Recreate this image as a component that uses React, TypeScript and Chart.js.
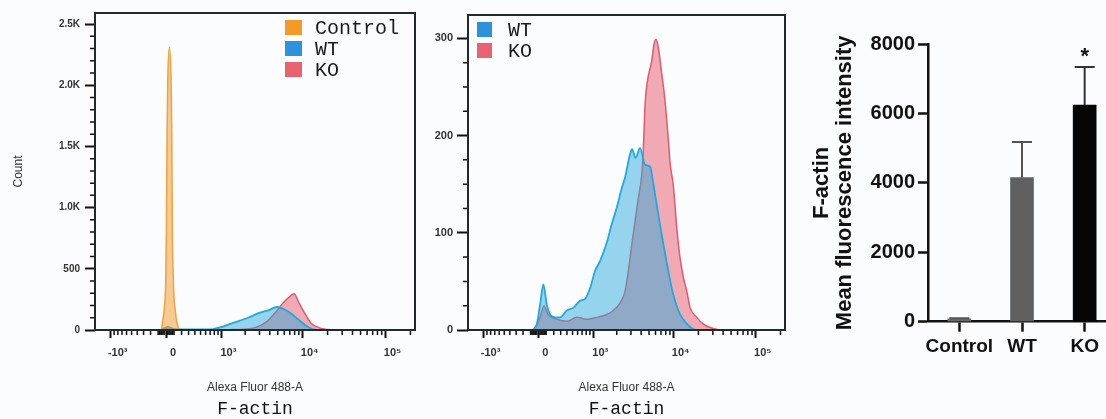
import React, { useEffect, useRef } from "react";
import { Chart, registerables } from "chart.js";

Chart.register(...registerables);

const SANS = '"Liberation Sans", Arial, sans-serif';
const MONO = '"Liberation Mono", "Courier New", monospace';

// ---------- shared flow-cytometry x axis (biexponential display) ----------
const ASINH_COFACTOR = 450;
const X_LIMITS = [-1590, 227000];
const X_MAJOR_TICKS = [-1000, 0, 1000, 10000, 100000];
const X_MAJOR_LABELS = ["-10³", "0", "10³", "10⁴", "10⁵"];
const X_MINOR_TICKS = [
  -900, -800, -700, -600, -500, -400, -300, -200, -100,
  -80, -60, -40, -20, 20, 40, 60, 80,
  100, 200, 300, 400, 500, 600, 700, 800, 900,
  2000, 3000, 4000, 5000, 6000, 7000, 8000, 9000,
  20000, 30000, 40000, 50000, 60000, 70000, 80000, 90000,
  200000,
];

// ---------- panel A (Control / WT / KO overlay) ----------
const A_Y_MAX = 2590;
const A_Y_TICKS = [0, 500, 1000, 1500, 2000, 2500];
const A_Y_LABELS = ["0", "500", "1.0K", "1.5K", "2.0K", "2.5K"];
const A_Y_MINOR = [100, 200, 300, 400, 600, 700, 800, 900, 1100, 1200, 1300, 1400, 1600, 1700, 1800, 1900, 2100, 2200, 2300, 2400];
const A_LEGEND = ["Control", "WT", "KO"];

const ctrlA_X = [-60, -54, -42, -25, -12, -4, 4, 8, 13, 21, 42, 63, 71, 75, 79, 92, 100, 117, 134, 156, 170];
const ctrlA_Y = [0, 19, 74, 155, 262, 401, 810, 1219, 1628, 2037, 2310, 2037, 1628, 1219, 810, 401, 262, 155, 74, 19, 0];

const wtA_X = [-60, -20, 20, 70, 114, 323, 491, 769, 1019, 1332, 2172, 3047, 3812, 4900, 5958, 7240, 9302, 11295, 12983, 14508];
const wtA_Y = [0, 15, 25, 15, 6, 4, 4, 8, 25, 52, 100, 142, 160, 188, 170, 135, 74, 30, 8, 0];

const koA_X = [-60, -20, 20, 70, 114, 491, 1293, 2111, 2801, 3707, 4900, 5794, 6661, 7871, 9045, 10108, 11295, 12627, 14918, 17140, 20250, 24590];
const koA_Y = [0, 10, 15, 10, 4, 2, 3, 8, 25, 70, 160, 220, 260, 297, 220, 160, 105, 55, 25, 10, 4, 0];

// ---------- panel B (WT / KO overlay) ----------
const B_Y_MAX = 324;
const B_Y_TICKS = [0, 100, 200, 300];
const B_Y_LABELS = ["0", "100", "200", "300"];
const B_Y_MINOR = [25, 50, 75, 125, 150, 175, 225, 250, 275];
const B_LEGEND = ["WT", "KO"];

const wtB_X = [-67, -20, 21, 63, 107, 150, 219, 291, 397, 518, 655, 773, 906, 1058, 1230, 1499, 1734, 2003, 2311, 2539, 2927, 3098, 3420, 3884, 4472, 5149, 5650, 6449, 7421, 8540, 9828, 11961, 14558, 17226, 19818];
const wtB_Y = [0, 6, 26, 47, 26, 16, 13, 13, 20, 23, 30, 32, 43, 61, 71, 90, 109, 126, 146, 157, 181, 186, 177, 187, 170, 168, 150, 120, 90, 62, 37, 16, 6, 1, 0];

const koB_X = [-67, -20, 21, 72, 111, 150, 243, 397, 584, 816, 1113, 1499, 1816, 2202, 2539, 2789, 3072, 3373, 3702, 4075, 4263, 4472, 4732, 5400, 5760, 6096, 6503, 7155, 7697, 8235, 8612, 9032, 9909, 10901, 11961, 13122, 14432, 15836, 19112, 22995, 29110, 36743];
const koB_Y = [0, 5, 13, 25, 18, 14, 11, 9, 13, 11, 13, 16, 20, 28, 40, 61, 88, 112, 136, 160, 187, 232, 254, 277, 294, 299, 290, 263, 242, 215, 195, 172, 148, 105, 74, 54, 40, 23, 13, 6, 2, 0];

// ---------- panel C (bar chart) ----------
const BAR_LABELS = ["Control", "WT", "KO"];
const BAR_MEANS = [80, 4150, 6240];
const BAR_SD = [20, 1030, 1100];
const BAR_SIG = ["", "", "*"];
const BAR_Y_MAX = 8000;
const BAR_Y_STEP = 2000;

// ---------- styles ----------
const SERIES_STYLE: Record<string, { line: string; fill: string; box: string; width: number }> = {
  Control: { line: "#f0a23c", fill: "rgba(244,160,58,0.55)", box: "#f59b25", width: 1.5 },
  WT: { line: "#1ea9e1", fill: "rgba(40,170,220,0.48)", box: "#2b92db", width: 1.8 },
  KO: { line: "#e05a6b", fill: "rgba(228,70,88,0.45)", box: "#e8636f", width: 1.5 },
};
const BAR_COLORS = ["#6a6a6a", "#606060", "#050505"];
const BAR_ERR_COLORS = ["#555555", "#555555", "#333333"];

const asinhT = (v: number) => Math.asinh(v / ASINH_COFACTOR);

function histDataset(label: string, xs: number[], ys: number[]) {
  const s = SERIES_STYLE[label];
  return {
    label,
    data: xs.map((v, i) => ({ x: asinhT(v), y: ys[i] })),
    borderColor: s.line,
    backgroundColor: s.fill,
    borderWidth: s.width,
    fill: "origin",
    pointRadius: 0,
    cubicInterpolationMode: "monotone",
  };
}

function minorTicksPlugin(xVals: number[], yVals: number[], len: number) {
  return {
    id: "minorTicks",
    afterDraw(chart: any) {
      const { ctx, chartArea: a, scales } = chart;
      ctx.save();
      ctx.strokeStyle = "#111";
      ctx.lineWidth = 1.5;
      ctx.beginPath();
      for (const v of xVals) {
        const px = scales.x.getPixelForValue(asinhT(v));
        ctx.moveTo(px, a.bottom);
        ctx.lineTo(px, a.bottom + len);
      }
      for (const v of yVals) {
        const py = scales.y.getPixelForValue(v);
        ctx.moveTo(a.left, py);
        ctx.lineTo(a.left - len, py);
      }
      ctx.stroke();
      ctx.restore();
    },
  };
}

const framePlugin = {
  id: "plotFrame",
  afterDraw(chart: any) {
    const { ctx, chartArea: a } = chart;
    ctx.save();
    ctx.strokeStyle = "#1f2b2b";
    ctx.lineWidth = 2;
    ctx.strokeRect(a.left, a.top, a.right - a.left, a.bottom - a.top);
    ctx.restore();
  },
};

function legendPlugin(labels: string[], spec: any) {
  return {
    id: "boxLegend",
    afterDraw(chart: any) {
      const { ctx, chartArea: a } = chart;
      const x0 = spec.anchor === "left" ? a.left + spec.dx : a.right - spec.dx;
      ctx.save();
      labels.forEach((lab, i) => {
        const y = a.top + spec.dy + i * spec.row;
        ctx.fillStyle = SERIES_STYLE[lab].box;
        ctx.fillRect(x0, y, spec.boxW, spec.boxH);
        ctx.fillStyle = "#1a1a1a";
        ctx.font = `${spec.fontSize}px ${MONO}`;
        ctx.textAlign = "left";
        ctx.textBaseline = "middle";
        ctx.fillText(lab, x0 + spec.gap, y + spec.boxH / 2 + 1);
      });
      ctx.restore();
    },
  };
}

function histConfig(p: any) {
  return {
    type: "line",
    data: { datasets: p.datasets },
    options: {
      responsive: false,
      animation: false,
      devicePixelRatio: 1,
      layout: { padding: { top: p.padTop, right: p.padRight, left: 0, bottom: 0 } },
      plugins: { legend: { display: false }, tooltip: { enabled: false }, title: { display: false } },
      scales: {
        x: {
          type: "linear",
          position: "bottom",
          weight: 0,
          min: asinhT(X_LIMITS[0]),
          max: asinhT(X_LIMITS[1]),
          afterBuildTicks: (s: any) => {
            s.ticks = X_MAJOR_TICKS.map((v) => ({ value: asinhT(v) }));
          },
          afterFit: (s: any) => {
            s.height = 67;
          },
          grid: { display: true, drawOnChartArea: false, drawTicks: true, tickLength: 8, tickWidth: 2, tickColor: "#111" },
          border: { display: false },
          ticks: {
            autoSkip: false,
            maxRotation: 0,
            padding: 8,
            labelOffset: 7,
            color: "#333",
            font: { family: SANS, size: 11, weight: "bold" },
            callback: (_v: any, i: number) => X_MAJOR_LABELS[i],
          },
          title: {
            display: true,
            text: "Alexa Fluor 488-A",
            color: "#333",
            font: { family: SANS, size: 12 },
            padding: { top: 0, bottom: 2 },
          },
        },
        x2: {
          type: "linear",
          position: "bottom",
          weight: 1,
          afterFit: (s: any) => {
            s.height = 22;
          },
          grid: { display: false },
          border: { display: false },
          ticks: { display: false },
          title: {
            display: true,
            text: "F-actin",
            color: "#111",
            font: { family: MONO, size: 18, lineHeight: 1 },
            padding: { top: 0, bottom: 1 },
          },
        },
        y: {
          type: "linear",
          min: 0,
          max: p.yMax,
          afterBuildTicks: (s: any) => {
            s.ticks = p.yTicks.map((v: number) => ({ value: v }));
          },
          afterFit: (s: any) => {
            s.width = p.yAxisWidth;
          },
          grid: { display: true, drawOnChartArea: false, drawTicks: true, tickLength: p.yTickLen, tickWidth: 2, tickColor: "#111" },
          border: { display: false },
          ticks: {
            autoSkip: false,
            padding: p.yLabelPad,
            color: "#333",
            font: { family: SANS, size: p.yFontSize, weight: "bold" },
            callback: (_v: any, i: number) => p.yLabels[i],
          },
          title: p.yTitle
            ? {
                display: true,
                text: p.yTitle,
                color: "#333",
                font: { family: SANS, size: 12 },
                padding: { top: 11, bottom: 0 },
              }
            : { display: false },
        },
      },
    },
    plugins: [minorTicksPlugin(X_MINOR_TICKS, p.yMinor, 5), framePlugin, legendPlugin(p.legend, p.legendSpec)],
  };
}

function makeA() {
  return histConfig({
    datasets: [histDataset("Control", ctrlA_X, ctrlA_Y), histDataset("WT", wtA_X, wtA_Y), histDataset("KO", koA_X, koA_Y)],
    yMax: A_Y_MAX,
    yTicks: A_Y_TICKS,
    yLabels: A_Y_LABELS,
    yMinor: A_Y_MINOR,
    yTickLen: 10,
    yLabelPad: 5,
    yFontSize: 10,
    yAxisWidth: 95,
    yTitle: "Count",
    padTop: 13,
    padRight: 5,
    legend: A_LEGEND,
    legendSpec: { anchor: "right", dx: 130, dy: 7, boxW: 17, boxH: 15, row: 21, gap: 30, fontSize: 20 },
  });
}

function makeB() {
  return histConfig({
    datasets: [histDataset("WT", wtB_X, wtB_Y), histDataset("KO", koB_X, koB_Y)],
    yMax: B_Y_MAX,
    yTicks: B_Y_TICKS,
    yLabels: B_Y_LABELS,
    yMinor: B_Y_MINOR,
    yTickLen: 11,
    yLabelPad: 4,
    yFontSize: 11,
    yAxisWidth: 48,
    yTitle: null,
    padTop: 15,
    padRight: 5,
    legend: B_LEGEND,
    legendSpec: { anchor: "left", dx: 9, dy: 7, boxW: 15, boxH: 15, row: 21, gap: 31, fontSize: 20 },
  });
}

const errorBarPlugin = {
  id: "errorBars",
  afterDatasetsDraw(chart: any) {
    const { ctx } = chart;
    const y = chart.scales.y;
    const meta = chart.getDatasetMeta(0);
    ctx.save();
    meta.data.forEach((bar: any, i: number) => {
      const top = y.getPixelForValue(BAR_MEANS[i] + BAR_SD[i]);
      const base = y.getPixelForValue(BAR_MEANS[i]);
      ctx.strokeStyle = BAR_ERR_COLORS[i];
      ctx.lineWidth = 2;
      ctx.beginPath();
      ctx.moveTo(bar.x, base);
      ctx.lineTo(bar.x, top);
      ctx.moveTo(bar.x - 10, top);
      ctx.lineTo(bar.x + 10, top);
      ctx.stroke();
      if (BAR_SIG[i]) {
        ctx.fillStyle = "#111";
        ctx.font = `bold 22px ${SANS}`;
        ctx.textAlign = "center";
        ctx.textBaseline = "middle";
        ctx.fillText(BAR_SIG[i], bar.x, top - 10);
      }
    });
    ctx.restore();
  },
};

function makeC() {
  return {
    type: "bar",
    data: {
      labels: BAR_LABELS,
      datasets: [{ data: BAR_MEANS, backgroundColor: BAR_COLORS, barThickness: 23, borderWidth: 0 }],
    },
    options: {
      responsive: false,
      animation: false,
      devicePixelRatio: 1,
      layout: { padding: { top: 44, right: 4, left: 0, bottom: 0 } },
      plugins: { legend: { display: false }, tooltip: { enabled: false } },
      scales: {
        x: {
          afterFit: (s: any) => {
            s.height = 97.3;
          },
          grid: { display: true, drawOnChartArea: false, offset: false, drawTicks: true, tickLength: 10, tickWidth: 2.5, tickColor: "#111" },
          border: { display: true, width: 2.5, color: "#111" },
          ticks: {
            autoSkip: false,
            maxRotation: 0,
            minRotation: 0,
            color: "#111",
            padding: 4,
            font: { family: SANS, size: 19, weight: "bold" },
          },
        },
        y: {
          min: 0,
          max: BAR_Y_MAX,
          afterFit: (s: any) => {
            s.width = 128;
          },
          grid: { display: true, drawOnChartArea: false, drawTicks: true, tickLength: 10, tickWidth: 2.5, tickColor: "#111" },
          border: { display: true, width: 2.5, color: "#111" },
          ticks: {
            stepSize: BAR_Y_STEP,
            color: "#111",
            padding: 3,
            font: { family: SANS, size: 20, weight: "bold" },
            callback: (v: any) => String(v),
          },
          title: {
            display: true,
            text: ["F-actin", "Mean fluorescence intensity"],
            color: "#111",
            font: { family: SANS, size: 22, weight: "bold", lineHeight: 1.05 },
            padding: { top: 10, bottom: 0 },
          },
        },
      },
    },
    plugins: [errorBarPlugin],
  };
}

function ChartCanvas({ make, left, width }: { make: () => any; left: number; width: number }) {
  const ref = useRef<HTMLCanvasElement>(null);
  useEffect(() => {
    const chart = new Chart(ref.current as HTMLCanvasElement, make());
    return () => chart.destroy();
  }, []);
  return (
    <canvas
      ref={ref}
      width={width}
      height={419}
      style={{ position: "absolute", left, top: 0, width, height: 419 }}
    />
  );
}

export default function App() {
  return (
    <div
      style={{
        position: "fixed",
        left: 0,
        top: 0,
        width: 1106,
        height: 419,
        overflow: "hidden",
        background: "#fbfcfe",
      }}
    >
      <ChartCanvas make={makeA} left={0} width={420} />
      <ChartCanvas make={makeB} left={420} width={370} />
      <ChartCanvas make={makeC} left={800} width={320} />
    </div>
  );
}
